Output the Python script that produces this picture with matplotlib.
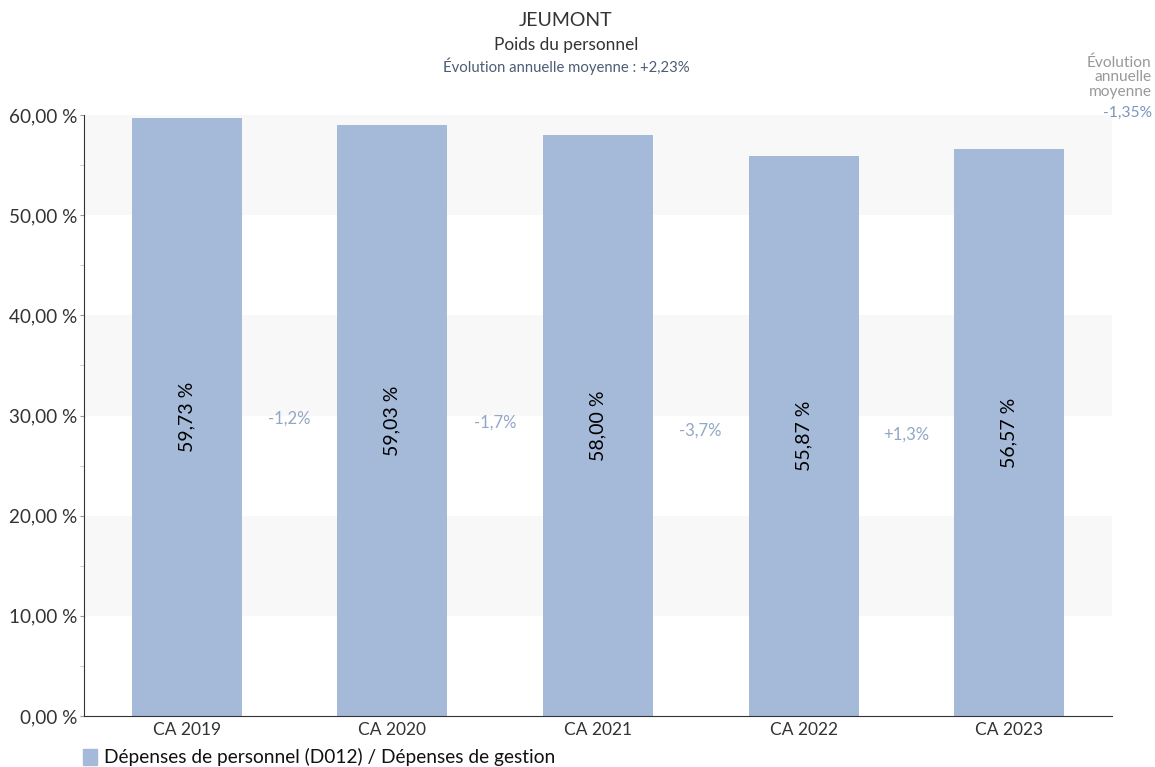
import matplotlib.pyplot as plt
from matplotlib.patches import Rectangle

# ------------------------------ Data -----------------------------------
categories = ['CA 2019', 'CA 2020', 'CA 2021', 'CA 2022', 'CA 2023']
values = [59.73, 59.03, 58.00, 55.87, 56.57]
evolutions = ['-1,2%', '-1,7%', '-3,7%', '+1,3%']
yticks = [0, 10, 20, 30, 40, 50, 60]

bar_color = '#a5bad8'
evo_color = '#93a6c6'

plt.rcParams['font.family'] = ['Lato', 'DejaVu Sans']

fig = plt.figure(figsize=(11.55, 7.67), dpi=100)
ax = fig.add_axes([0.0727, 0.0665, 0.890, 0.7835])

# alternating background bands
for lo in (10, 30, 50):
    ax.axhspan(lo, lo + 10, color='#f8f8f8', zorder=0, lw=0)

x = range(len(categories))
ax.bar(x, values, width=0.535, color=bar_color, zorder=2)

# values inside bars
for i, v in enumerate(values):
    ax.text(i, v / 2, f'{v:.2f} %'.replace('.', ','), rotation=90,
            ha='center', va='center', fontsize=14, color='black', zorder=3)

# evolutions between bars
for i, e in enumerate(evolutions):
    ymid = (values[i] / 2 + values[i + 1] / 2) / 2
    ax.text(i + 0.5, ymid, e, ha='center', va='center', fontsize=12,
            color=evo_color, zorder=3)

ax.set_xlim(-0.5, len(categories) - 0.5)
ax.set_ylim(0, 60)
ax.set_yticks(yticks)
ax.set_yticklabels([f'{t:.2f} %'.replace('.', ',') for t in yticks], fontsize=13.6, color='#333333')
ax.set_yticks([5, 15, 25, 35, 45, 55], minor=True)
ax.tick_params(axis='y', which='minor', length=3, color='#f0b0b0')
ax.tick_params(axis='y', which='major', length=3, color='#999999', pad=2)
ax.set_xticks(list(x))
ax.set_xticklabels(categories, fontsize=12.5, color='#333333')
ax.tick_params(axis='x', length=0, pad=4)

for s in ('top', 'right'):
    ax.spines[s].set_visible(False)
ax.spines['left'].set_color('#333333')
ax.spines['bottom'].set_color('#333333')

# titles
fig.text(0.49, 0.985, 'JEUMONT', ha='center', va='top', fontsize=14, color='#333333')
fig.text(0.49, 0.952, 'Poids du personnel', ha='center', va='top', fontsize=12.4, color='#333333')
fig.text(0.49, 0.925, 'Évolution annuelle moyenne : +2,23%', ha='center', va='top',
         fontsize=10.7, color='#4d5d75')

# top-right annotation
fig.text(0.997, 0.928, 'Évolution\nannuelle\nmoyenne', ha='right', va='top',
         fontsize=11.2, color='#999999', linespacing=1.05)
fig.text(0.997, 0.862, '-1,35%', ha='right', va='top', fontsize=11.2, color='#7f95bb')

# legend
fig.patches.append(Rectangle((0.0718, 0.003), 0.0125, 0.021, transform=fig.transFigure,
                             color=bar_color))
fig.text(0.09, 0.013, 'Dépenses de personnel (D012) / Dépenses de gestion',
         ha='left', va='center', fontsize=13.8, color='#111111')

fig.savefig('out.png', dpi=100)
